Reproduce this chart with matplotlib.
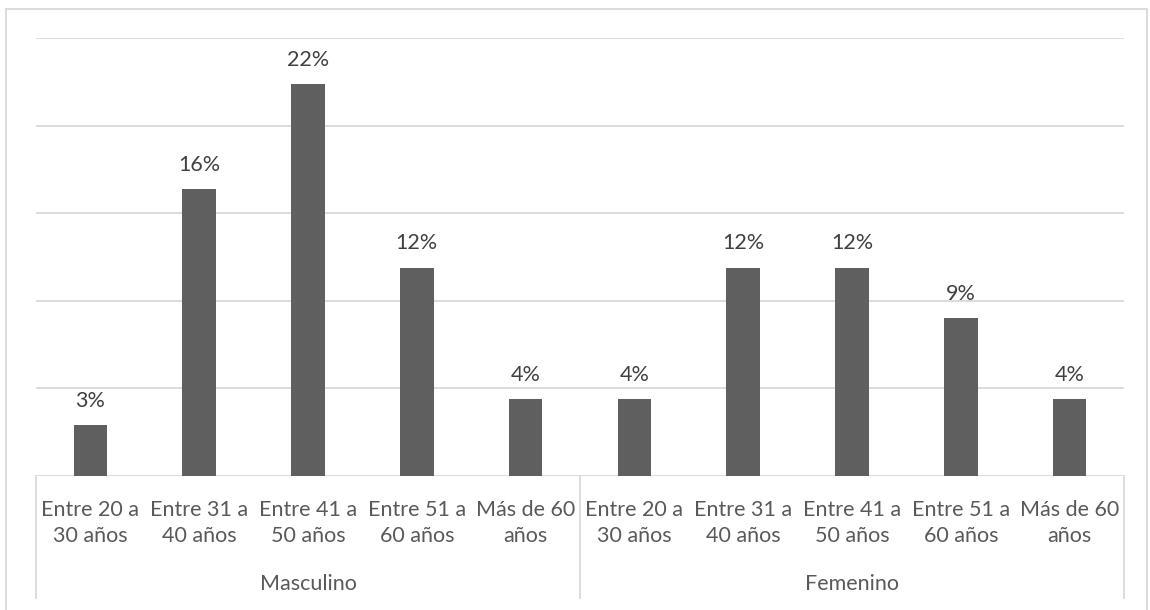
import matplotlib
matplotlib.use("Agg")
import matplotlib.pyplot as plt
from matplotlib.patches import Rectangle
import matplotlib.transforms as mtransforms

groups = ["Masculino", "Femenino"]
age_labels = ["Entre 20 a\n30 años", "Entre 31 a\n40 años", "Entre 41 a\n50 años",
              "Entre 51 a\n60 años", "Más de 60\naños"]
masculino = [2.9, 16.4, 22.4, 11.9, 4.4]
femenino = [4.4, 11.9, 11.9, 9.0, 4.4]

plt.rcParams['font.family'] = ['Lato', 'DejaVu Sans']
W, H = 1150, 610
fig = plt.figure(figsize=(W / 100, H / 100), dpi=100)
fig.patch.set_facecolor("white")

# outer frame
fig.add_artist(Rectangle((6 / W, -0.01), (1147 - 6) / W, (H - 9) / H + 0.01,
                         transform=fig.transFigure, fill=False,
                         edgecolor="#d9d9d9", linewidth=1.3))

left, right = 36 / W, 1124 / W
bottom, top = (H - 476) / H, (H - 38) / H
ax = fig.add_axes([left, bottom, right - left, top - bottom])

values = masculino + femenino
n = len(values)
xs = list(range(n))
ax.bar(xs, values, width=0.31, color="#5f5f5f", zorder=3)
ax.set_xlim(-0.5, n - 0.5)
ax.set_ylim(0, 25)
ax.set_yticks([0, 5, 10, 15, 20, 25])
ax.yaxis.grid(True, color="#d9d9d9", linewidth=1.3, zorder=0)
ax.set_axisbelow(True)
for s in ax.spines.values():
    s.set_visible(False)
ax.tick_params(left=False, bottom=False, labelleft=False, labelbottom=False)

for x, v in zip(xs, values):
    ax.text(x, v + 0.8, f"{round(v):.0f}%", ha="center", va="bottom",
            fontsize=15.5, color="#404040")

trans = mtransforms.blended_transform_factory(ax.transData, ax.transAxes)
px = 1 / (top - bottom) / H  # axes fraction per pixel
for i, lab in enumerate(age_labels * len(groups)):
    ax.text(i, -24 * px, lab, ha="center", va="top", fontsize=15.5,
            color="#595959", linespacing=1.35, transform=trans)

per = len(age_labels)
for g, name in enumerate(groups):
    xc = g * per + (per - 1) / 2
    ax.text(xc, -108 * px, name, ha="center", va="center", fontsize=15.5,
            color="#595959", transform=trans)

for xb in [-0.5, per - 0.5, n - 0.5]:
    ax.plot([xb, xb], [0, -122 * px], color="#d9d9d9", linewidth=1.3,
            transform=trans, clip_on=False)

fig.savefig("out.png", dpi=100, facecolor="white")
